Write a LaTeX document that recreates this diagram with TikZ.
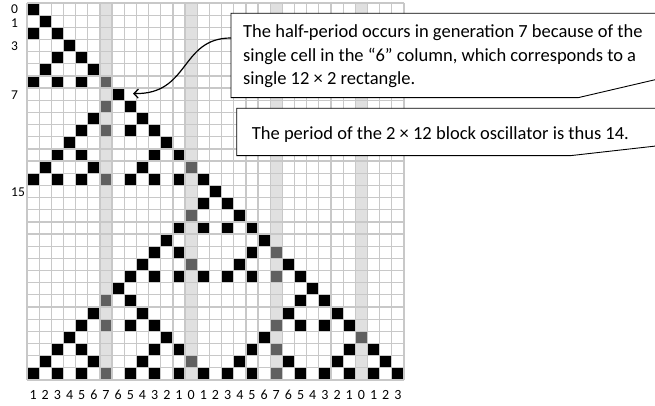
\documentclass[tikz,border=0pt]{standalone}
\usepackage{fontspec}
\setmainfont{Carlito}
\usetikzlibrary{arrows.meta}
\definecolor{gridc}{HTML}{C8C8C8}
\definecolor{colbg}{HTML}{E0E0E0}
\definecolor{darkcell}{HTML}{606060}
\newcommand{\cs}{12.16}
\begin{document}
\begin{tikzpicture}[x=1pt,y=-1pt,
  gridline/.style={draw=gridc, line width=1.3pt},
  callout/.style={draw=black, line width=0.9pt, fill=white},
  boxtext/.style={anchor=base west, inner sep=0pt, font=\fontsize{18.5}{23.5}\selectfont},
  lab/.style={anchor=base, inner sep=0pt, font=\fontsize{14}{14}\selectfont},
  rowlab/.style={anchor=base west, inner sep=0pt, font=\fontsize{13.5}{13.5}\selectfont}]
\useasboundingbox (0,0) rectangle (655,406);
\fill[white] (0,0) rectangle (655,406);
% gray columns
\foreach \c in {6,13,20,27}
  \fill[colbg] ({27+\c*\cs},3) rectangle ({27+(\c+1)*\cs},{3+31*\cs});
% live cells
\foreach \r/\cells in {0/{0},1/{1},2/{0,2},3/{3},4/{2,4},5/{1,5},6/{0,2,4,6},7/{7},
  8/{6,8},9/{5,9},10/{4,6,8,10},11/{3,11},12/{2,4,10,12},13/{1,5,9,13},
  14/{0,2,4,6,8,10,12,14},15/{15},16/{14,16},17/{13,17},18/{12,14,16,18},19/{11,19},
  20/{10,12,18,20},21/{9,13,17,21},22/{8,10,12,14,16,18,20,22},23/{7,23},
  24/{6,8,22,24},25/{5,9,21,25},26/{4,6,8,10,20,22,24,26},27/{3,11,19,27},
  28/{2,4,10,12,18,20,26,28},29/{1,5,9,13,17,21,25,29},
  30/{0,2,4,6,8,10,12,14,16,18,20,22,24,26,28,30}}{
  \foreach \c in \cells {
    \pgfmathtruncatemacro\m{mod(\c,7)}
    \ifnum\m=6 \def\cc{darkcell}\else\def\cc{black}\fi
    \fill[\cc] ({27+\c*\cs},{3+\r*\cs}) rectangle ({27+(\c+1)*\cs},{3+(\r+1)*\cs});
  }
}
% grid lines
\foreach \i in {0,...,31}{
  \draw[gridline] ({27+\i*\cs},3) -- ({27+\i*\cs},{3+31*\cs});
  \draw[gridline] (27,{3+\i*\cs}) -- ({27+31*\cs},{3+\i*\cs});
}
% row labels
\node[rowlab] (row0) at (11,13.6) {0};
\node[rowlab] (row1) at (11,27.4) {1};
\node[rowlab] (row3) at (11,51) {3};
\node[rowlab] (row7) at (11,99.5) {7};
\node[rowlab] (row15) at (11,196.3) {15};
% column labels
\foreach \c/\l in {0/1,1/2,2/3,3/4,4/5,5/6,6/7,7/6,8/5,9/4,10/3,11/2,12/1,13/0,
  14/1,15/2,16/3,17/4,18/5,19/6,20/7,21/6,22/5,23/4,24/3,25/2,26/1,27/0,28/1,29/2,30/3}
  \node[lab] (col\c) at ({27+(\c+0.5)*\cs},399) {\l};
% callout 1
\draw[callout] (231,13.3) -- (662,13.3) -- (662,78) -- (656,79.5) -- (578,97.7) -- (231,97.7) -- cycle;
\node[boxtext] (t1a) at (243,38) {The half-period occurs in generation 7 because of the};
\node[boxtext] (t1b) at (243,61.5) {single cell in the “6” column, which corresponds to a};
\node[boxtext] (t1c) at (243,85) {single 12 × 2 rectangle.};
% callout 2
\draw[callout] (236.7,108.3) -- (662,108.3) -- (662,145) -- (656,146) -- (570,155.7) -- (236.7,155.7) -- cycle;
\node[boxtext] (t2) at (251.7,139.5) {The period of the 2 × 12 block oscillator is thus 14.};
% arrow
\coordinate (as) at (231,38);
\coordinate (ae) at (133,93.5);
\draw[line width=1.2pt, -{Straight Barb[length=4.5pt,width=9pt]}] (as) .. controls (180,38) and (190,95) .. (ae);
\end{tikzpicture}
\end{document}
